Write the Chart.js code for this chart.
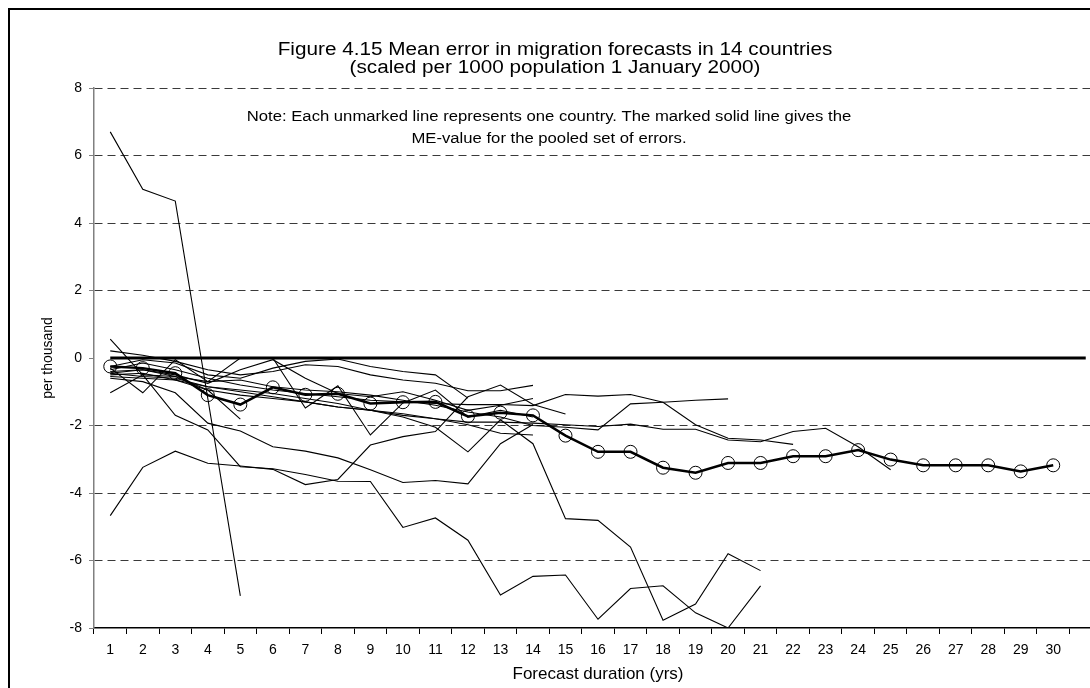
<!DOCTYPE html>
<html>
<head>
<meta charset="utf-8">
<script src="https://cdn.jsdelivr.net/npm/chart.js@4.4.0/dist/chart.umd.min.js"></script>
<style>
  html, body { margin: 0; padding: 0; background: #fff; overflow: hidden; }
  #wrap { position: absolute; left: 0; top: 0; width: 1110px; height: 700px; }
</style>
</head>
<body>
<div id="wrap"><canvas id="chart" width="1110" height="700"></canvas></div>
<script>
// forecast duration in years (the 31st slot is the empty one at the right edge)
var years = ['1','2','3','4','5','6','7','8','9','10','11','12','13','14','15','16','17','18','19','20','21','22','23','24','25','26','27','28','29','30',''];
var yTicks = [8, 6, 4, 2, 0, -2, -4, -6, -8];

var zeroLine = [0,0,0,0,0,0,0,0,0,0,0,0,0,0,0,0,0,0,0,0,0,0,0,0,0,0,0,0,0,0,0];
var meanError = [-0.25,-0.3,-0.45,-1.1,-1.38,-0.87,-1.09,-1.06,-1.35,-1.31,-1.3,-1.73,-1.62,-1.7,-2.3,-2.78,-2.78,-3.25,-3.4,-3.11,-3.11,-2.91,-2.91,-2.73,-3.01,-3.18,-3.18,-3.18,-3.36,-3.18];

// one array per country
var country1 = [6.7, 5.0, 4.65, -1.2, -7.05];
var country2 = [-4.67, -3.24, -2.76, -3.12, -3.2, -3.3, -3.75, -3.6, -2.58, -2.33, -2.18, -1.15, -0.8, -1.38, -1.66];
var country3 = [0.56, -0.5, -1.7, -2.13, -3.22, -3.28, -3.45, -3.65, -3.66, -5.02, -4.74, -5.4, -7.02, -6.47, -6.43, -7.74, -6.83, -6.75, -7.55, -8.0, -6.75];
var country4 = [-0.6, -0.7, -1.03, -1.93, -2.16, -2.63, -2.76, -2.96, -3.31, -3.69, -3.63, -3.73, -2.54, -1.97];
var country5 = [-0.45, -0.55, -0.6, -0.85, -0.95, -1.05, -1.2, -1.35, -1.55, -1.75, -2.05, -2.78, -1.83, -2.54, -4.76, -4.81, -5.6, -7.77, -7.29, -5.8, -6.3];
var country6 = [-0.35, -0.15, -0.35, -0.6, -0.8, -0.95, -1.05, -1.15, -1.25, -1.3, -1.35, -1.38, -1.38, -1.41, -1.08, -1.13, -1.08, -1.31, -1.98, -2.38, -2.43, -2.56];
var country7 = [-0.5, -0.45, -0.65, -0.85, -1.0, -1.15, -1.3, -1.45, -1.55, -1.65, -1.8, -1.9, -1.9, -1.93, -1.98, -2.03, -1.96, -2.11, -2.11, -2.43, -2.48, -2.18, -2.08, -2.63, -3.31];
var country8 = [-0.4, -0.35, -0.55, -0.7, -0.65, -0.85, -0.95, -1.0, -1.1, -1.25, -1.4, -1.6, -1.75, -2.0, -2.05, -2.13, -1.36, -1.31, -1.25, -1.21];
var country9 = [0.21, 0.08, -0.1, -0.35, -0.5, -0.4, -0.2, -0.25, -0.5, -0.65, -0.75, -0.97, -0.97, -0.81];
var country10 = [-0.55, -0.6, -0.65, -0.95, -1.1, -1.2, -1.3, -1.45, -1.55, -1.7, -1.8, -1.98, -2.23, -2.28];
var country11 = [-0.25, -0.05, -0.15, -0.5, -0.6, -0.3, -0.1, -0.03, -0.25, -0.4, -0.5, -1.19];
var country12 = [-1.03, -0.5, -0.55, -0.95, -1.81];
var country13 = [-0.3, -1.03, -0.05, -0.7, 0.0, 0.0, -1.48, -0.82, -2.28, -1.33, -0.95, -1.75, -1.55, -1.75];
var country14 = [-0.45, -0.35, -0.5, -0.75, -0.35, -0.05, -0.6, -1.05, -1.15, -1.0, -1.25, -1.55, -1.4, -1.2];

var titleLines = [
  'Figure 4.15 Mean error in migration forecasts in 14 countries',
  '(scaled per 1000 population 1 January 2000)'
];
var noteLines = [
  'Note: Each unmarked line represents one country. The marked solid line gives the',
  'ME-value for the pooled set of errors.'
];

var countries = [country1, country2, country3, country4, country5, country6, country7,
                 country8, country9, country10, country11, country12, country13, country14];

var FONT = '"Liberation Sans", Arial, sans-serif';

var datasets = [
  {
    label: 'ME pooled',
    data: meanError,
    borderColor: '#000',
    borderWidth: 2.5,
    pointRadius: 6.5,
    pointBorderWidth: 1,
    pointBorderColor: '#000',
    pointBackgroundColor: 'rgba(0,0,0,0)',
    tension: 0
  },
  {
    label: 'zero',
    data: zeroLine,
    borderColor: '#000',
    borderWidth: 3,
    pointRadius: 0,
    tension: 0
  }
];
countries.forEach(function(c, i) {
  datasets.push({
    label: 'country ' + (i + 1),
    data: c,
    borderColor: '#000',
    borderWidth: 1.1,
    pointRadius: 0,
    tension: 0
  });
});

// text drawn a little wider than the font, like the stretched original
function wideText(ctx, text, x, y, size, sx) {
  ctx.save();
  ctx.font = size + 'px ' + FONT;
  ctx.textAlign = 'center';
  ctx.textBaseline = 'middle';
  ctx.translate(x, y);
  ctx.scale(sx, 1);
  ctx.fillText(text, 0, 0);
  ctx.restore();
}

// frame round the chart, title and the note inside the plot
var extras = {
  id: 'extras',
  beforeDraw: function(chart) {
    var ctx = chart.ctx;
    ctx.save();
    ctx.fillStyle = '#fff';
    ctx.fillRect(0, 0, chart.width, chart.height);
    ctx.restore();
  },
  afterDraw: function(chart) {
    var ctx = chart.ctx;
    ctx.save();
    ctx.strokeStyle = '#000';
    ctx.lineWidth = 2;
    ctx.strokeRect(9, 9, chart.width + 20, chart.height + 20);
    ctx.fillStyle = '#000';
    wideText(ctx, titleLines[0], 555, 50, 18, 1.15);
    wideText(ctx, titleLines[1], 555, 68, 18, 1.15);
    wideText(ctx, noteLines[0], 549, 117, 14, 1.19);
    wideText(ctx, noteLines[1], 549, 139, 14, 1.19);
    ctx.restore();
  }
};

new Chart(document.getElementById('chart'), {
  type: 'line',
  data: { labels: years, datasets: datasets },
  plugins: [extras],
  options: {
    responsive: false,
    animation: false,
    layout: { padding: { left: 0, right: 8, top: 88, bottom: 0 } },
    plugins: {
      legend: { display: false },
      tooltip: { enabled: false },
      title: { display: false }
    },
    scales: {
      x: {
        offset: true,
        grid: { offset: true, drawOnChartArea: false, drawTicks: true, tickLength: 6, tickColor: '#000' },
        border: { display: true, color: '#000', width: 1.5 },
        ticks: { color: '#000', font: { family: FONT, size: 14 }, padding: 8, maxRotation: 0, autoSkip: false },
        title: { display: true, text: 'Forecast duration (yrs)', color: '#000',
                 font: { family: FONT, size: 17 }, padding: { top: 0, bottom: 15 } },
        afterFit: function(s) { s.height = 72; }
      },
      y: {
        min: -8,
        max: 8,
        afterBuildTicks: function(s) {
          s.ticks = yTicks.map(function(v) { return { value: v }; });
        },
        grid: {
          color: function(c) { return (c.tick && (c.tick.value === 0 || c.tick.value === -8)) ? 'rgba(0,0,0,0)' : '#3a3a3a'; },
          drawTicks: true, tickLength: 5, tickColor: '#808080', tickBorderDash: [0, 0], lineWidth: 1
        },
        border: { display: true, color: '#808080', width: 1.5, dash: [8, 5] },
        ticks: { color: '#000', font: { family: FONT, size: 14 }, padding: 7 },
        title: { display: true, text: 'per thousand', color: '#000',
                 font: { family: FONT, size: 14 }, padding: { top: 40 } },
        afterFit: function(s) { s.width = 94; }
      }
    }
  }
});
</script>
</body>
</html>
